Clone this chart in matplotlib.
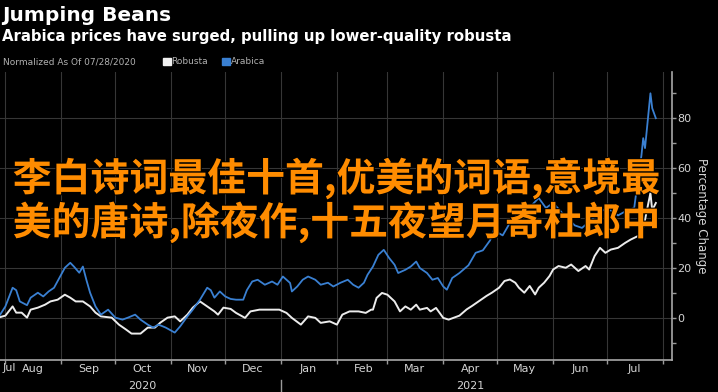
import pandas as pd
import matplotlib.pyplot as plt
import matplotlib.dates as mdates
import matplotlib.patheffects as pe
from matplotlib.ticker import MultipleLocator

title = 'Jumping Beans'
subtitle = 'Arabica prices have surged, pulling up lower-quality robusta'
note = 'Normalized As Of 07/28/2020'
overlay_lines = ['李白诗词最佳十首,优美的词语,意境最', '美的唐诗,除夜作,十五夜望月寄杜郎中']
y_label = 'Percentage Change'
y_ticks = [0, 20, 40, 60, 80]
year_labels = [('2020', '2020-10-16'), ('2021', '2021-04-16')]

arabica_dates = [
    '2020-07-28', '2020-08-01', '2020-08-05', '2020-08-07', '2020-08-09', '2020-08-13', '2020-08-15',
    '2020-08-19', '2020-08-22', '2020-08-25', '2020-08-28', '2020-08-31', '2020-09-03', '2020-09-06',
    '2020-09-08', '2020-09-11', '2020-09-13', '2020-09-15', '2020-09-17', '2020-09-20', '2020-09-23',
    '2020-09-27', '2020-10-01', '2020-10-05', '2020-10-08', '2020-10-12', '2020-10-15', '2020-10-19',
    '2020-10-22', '2020-10-25', '2020-10-29', '2020-10-31', '2020-11-03', '2020-11-06', '2020-11-10',
    '2020-11-13', '2020-11-17', '2020-11-21', '2020-11-23', '2020-11-25', '2020-11-28', '2020-12-01',
    '2020-12-04', '2020-12-07', '2020-12-11', '2020-12-13', '2020-12-16', '2020-12-19', '2020-12-23',
    '2020-12-27', '2020-12-30', '2021-01-02', '2021-01-06', '2021-01-07', '2021-01-10', '2021-01-13',
    '2021-01-16', '2021-01-20', '2021-01-23', '2021-01-27', '2021-01-30', '2021-02-03', '2021-02-07',
    '2021-02-10', '2021-02-13', '2021-02-16', '2021-02-18', '2021-02-21', '2021-02-24', '2021-02-27',
    '2021-03-02', '2021-03-05', '2021-03-07', '2021-03-11', '2021-03-14', '2021-03-17', '2021-03-19',
    '2021-03-23', '2021-03-26', '2021-03-29', '2021-04-01', '2021-04-03', '2021-04-06', '2021-04-10',
    '2021-04-15', '2021-04-19', '2021-04-23', '2021-04-27', '2021-04-29', '2021-05-04', '2021-05-08',
    '2021-05-13', '2021-05-20', '2021-05-24', '2021-05-28', '2021-06-01', '2021-06-06', '2021-06-13',
    '2021-06-17', '2021-06-22', '2021-06-26', '2021-07-01', '2021-07-07', '2021-07-12', '2021-07-16',
    '2021-07-18', '2021-07-20', '2021-07-21', '2021-07-22', '2021-07-25', '2021-07-26', '2021-07-28']
arabica_values = [
    0, 4.5, 12, 11, 6.5, 5, 8,
    10, 8.5, 10.5, 12, 16, 20, 22,
    20.5, 18, 20.5, 15, 10, 4.5, 1.2,
    3.2, 0, -0.8, 0, 1.2, -0.8, -2.8,
    -4, -2.8, -4, -4.8, -6, -3.5, 0.5,
    3.2, 7.2, 12, 11, 8, 10.5, 8.5,
    7.5, 7.2, 7.2, 11, 14.5, 15.2, 13.2,
    14.5, 13.2, 16.5, 13.9, 10.5, 12.5, 15.2,
    16.5, 15.2, 13.2, 14, 12.5, 14, 15.2,
    13.2, 12, 14, 17.2, 20.5, 25.2, 27.2,
    23.9, 21.2, 17.9, 19.2, 20.5, 22.5, 19.9,
    17.9, 15.2, 15.9, 12.5, 11.2, 15.9, 17.9,
    21, 26, 27, 31, 35, 33, 38,
    42, 45, 48, 44, 46, 42, 37,
    36, 39, 42, 44, 41, 43, 44,
    55, 65, 72, 68, 90, 84, 80]

robusta_dates = [
    '2020-07-28', '2020-08-01', '2020-08-05', '2020-08-07', '2020-08-10', '2020-08-13', '2020-08-15',
    '2020-08-19', '2020-08-23', '2020-08-26', '2020-08-30', '2020-09-03', '2020-09-06', '2020-09-09',
    '2020-09-13', '2020-09-17', '2020-09-20', '2020-09-23', '2020-09-29', '2020-10-03', '2020-10-07',
    '2020-10-10', '2020-10-15', '2020-10-19', '2020-10-23', '2020-10-26', '2020-10-30', '2020-11-03',
    '2020-11-06', '2020-11-10', '2020-11-13', '2020-11-17', '2020-11-21', '2020-11-25', '2020-11-27',
    '2020-11-30', '2020-12-04', '2020-12-07', '2020-12-12', '2020-12-15', '2020-12-20', '2020-12-25',
    '2020-12-31', '2021-01-04', '2021-01-07', '2021-01-12', '2021-01-16', '2021-01-20', '2021-01-23',
    '2021-01-28', '2021-02-01', '2021-02-04', '2021-02-08', '2021-02-13', '2021-02-17', '2021-02-20',
    '2021-02-21', '2021-02-23', '2021-02-26', '2021-03-01', '2021-03-05', '2021-03-08', '2021-03-11',
    '2021-03-14', '2021-03-17', '2021-03-19', '2021-03-23', '2021-03-25', '2021-03-28', '2021-04-01',
    '2021-04-04', '2021-04-10', '2021-04-14', '2021-04-17', '2021-04-21', '2021-04-25', '2021-04-28',
    '2021-05-02', '2021-05-05', '2021-05-08', '2021-05-11', '2021-05-13', '2021-05-16', '2021-05-19',
    '2021-05-22', '2021-05-24', '2021-05-27', '2021-05-30', '2021-06-01', '2021-06-04', '2021-06-08',
    '2021-06-11', '2021-06-15', '2021-06-19', '2021-06-21', '2021-06-24', '2021-06-27', '2021-06-30',
    '2021-07-03', '2021-07-07', '2021-07-11', '2021-07-14', '2021-07-18', '2021-07-20', '2021-07-22',
    '2021-07-25', '2021-07-26', '2021-07-28']
robusta_values = [
    0, 0.8, 4.5, 2, 2, 0, 3.2,
    4, 5.2, 6.5, 7.2, 9.2, 8, 6.5,
    6.5, 4.5, 2, 0.5, 0, -2.8, -4.8,
    -6.4, -6.4, -4, -4, -2, 0, 0.5,
    -1.5, 1.2, 4, 6.5, 4.5, 2.5, 1.2,
    4, 3.5, 1.9, -0.1, 2.5, 3.2, 3.2,
    3.2, 1.9, -0.1, -2.8, 0.5, -0.1, -2.1,
    -1.5, -2.8, 1.2, 2.5, 2.5, 1.9, 3.2,
    3.2, 7.9, 9.9, 9.2, 6.5, 2.5, 4.5,
    3.2, 5.2, 3.2, 3.9, 2.5, 3.9, -0.1,
    -0.8, 0.8, 3.3, 4.7, 6.7, 8.7, 10,
    12, 14.7, 15.3, 14, 12, 10, 12.7,
    9.3, 12, 14, 16.7, 19.3, 20.7, 20,
    21.3, 18.7, 20.7, 19.3, 24.7, 28, 26,
    27.3, 28, 30, 31.3, 32.7, 33.3, 39.3,
    50, 43, 46]

bg = 'black'
grid_col = '#363636'
text_col = '#d4d4d4'
blue = '#3a80d2'

fig = plt.figure(figsize=(7.18, 3.92), dpi=100, facecolor=bg)
ax = fig.add_axes([0.0, 0.0816, 0.936, 0.7345], facecolor=bg)

ax.plot(pd.to_datetime(robusta_dates), robusta_values, color='#ececec', lw=1.4, zorder=3)
ax.plot(pd.to_datetime(arabica_dates), arabica_values, color=blue, lw=1.3, zorder=3)

ax.set_xlim(pd.Timestamp('2020-07-29'), pd.Timestamp('2021-08-06'))
ax.set_ylim(-17, 98.5)

# y axis on the right
ax.yaxis.tick_right()
ax.yaxis.set_label_position('right')
ax.set_yticks(y_ticks)
ax.yaxis.set_minor_locator(MultipleLocator(10))
ax.tick_params(axis='y', which='both', colors='#9a9a9a', labelcolor=text_col, labelsize=8,
               length=3, width=1, pad=1)
ax.set_ylabel(y_label, color=text_col, fontsize=8.5, rotation=270, labelpad=12)

# months: ticks at boundaries, labels centred mid-month
ax.xaxis.set_major_locator(mdates.MonthLocator())
ax.xaxis.set_major_formatter(plt.NullFormatter())
ax.xaxis.set_minor_locator(mdates.MonthLocator(bymonthday=16))
ax.xaxis.set_minor_formatter(mdates.DateFormatter('%b'))
ax.tick_params(axis='x', which='major', colors='#9a9a9a', length=3, width=1)
ax.tick_params(axis='x', which='minor', length=0, labelcolor=text_col, labelsize=8, pad=3)
ax.text(0.004, -0.012, 'Jul', transform=ax.transAxes, color=text_col, fontsize=8, ha='left', va='top')

trans = ax.get_xaxis_transform()
for lab, d in year_labels:
    ax.text(pd.Timestamp(d), -0.072, lab, transform=trans, color=text_col, fontsize=8,
            ha='center', va='top')
ax.plot([pd.Timestamp('2021-01-01')] * 2, [-0.07, -0.12], transform=trans, color='#9a9a9a',
        lw=1, clip_on=False)

ax.grid(True, which='major', color=grid_col, lw=0.8)
for s in ['left', 'top']:
    ax.spines[s].set_visible(False)
for s in ['right', 'bottom']:
    ax.spines[s].set_color('#a8a8a8')
    ax.spines[s].set_linewidth(1.2)

fig.text(0.003, 0.985, title, color='white', fontsize=14.5, fontweight='bold', va='top')
fig.text(0.003, 0.925, subtitle, color='white', fontsize=10.7, fontweight='bold', va='top')
fig.text(0.004, 0.842, note, color='#b0b0b0', fontsize=6.5, va='center')
fig.patches.append(plt.Rectangle((0.227, 0.833), 0.011, 0.019, transform=fig.transFigure,
                                 color='#f0f0f0', figure=fig))
fig.text(0.239, 0.842, 'Robusta', color='#b0b0b0', fontsize=6.5, va='center')
fig.patches.append(plt.Rectangle((0.309, 0.833), 0.011, 0.019, transform=fig.transFigure,
                                 color=blue, figure=fig))
fig.text(0.321, 0.842, 'Arabica', color='#b0b0b0', fontsize=6.5, va='center')

# orange overlay text
for i, line in enumerate(overlay_lines):
    fig.text(0.4685, 0.545 - i * 0.112, line, color='#ff8c00', fontsize=28, fontweight='bold',
             family=['Noto Sans CJK SC', 'DejaVu Sans'], ha='center', va='center', zorder=10,
             path_effects=[pe.withStroke(linewidth=1.5, foreground='black')])

fig.savefig('out.png', dpi=100, facecolor=bg)
